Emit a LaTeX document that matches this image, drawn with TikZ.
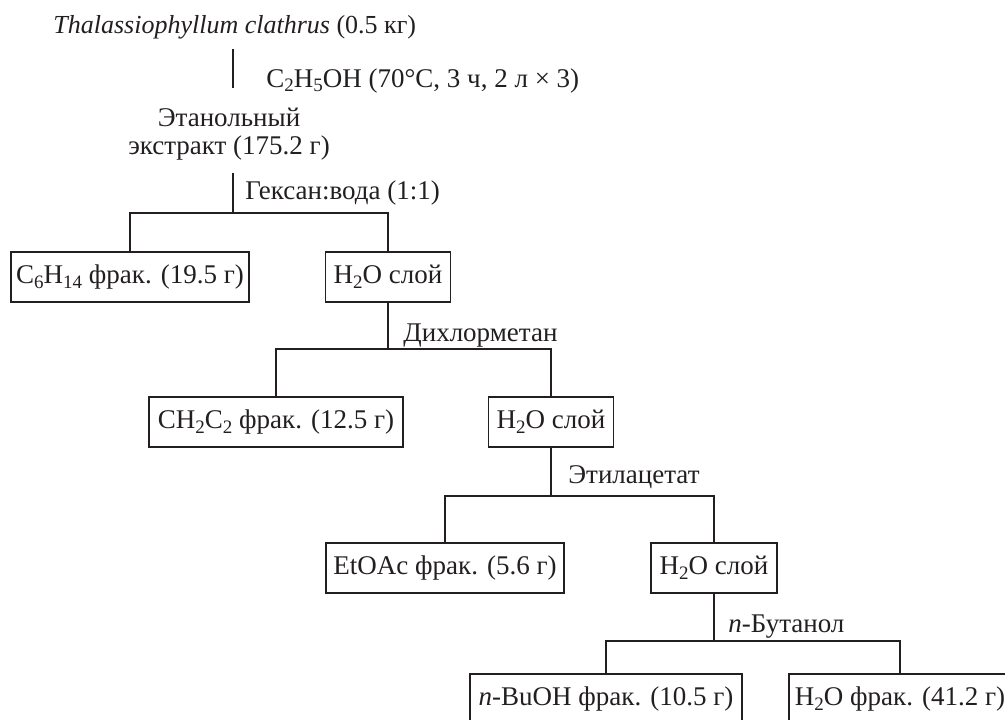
\documentclass[tikz,border=0pt]{standalone}
\usepackage{fontspec}
\setmainfont{Liberation Serif}
\definecolor{ink}{HTML}{231F20}
\newcommand{\sbs}[1]{\raisebox{-0.4ex}{\fontsize{9.5}{10}\selectfont#1}}

\begin{document}
\begin{tikzpicture}[x=0.5pt,y=-0.5pt,ink,
	every node/.style={font=\fontsize{13.5}{14}\selectfont,text=ink},
	frac/.style={draw,line width=0.65pt,inner sep=0pt,minimum height=25pt},
	lbl/.style={anchor=base west,inner sep=0pt},
	link/.style={line width=0.65pt}]
	\clip (0,0) rectangle (1005,719);
	% source and extraction
	\node[lbl,font=\fontsize{13}{14}\selectfont] (plant) at (53,33) {\textit{Thalassiophyllum clathrus} (0.5 кг)};
	\node[lbl] (etoh) at (266,87) {C\sbs{2}H\sbs{5}OH (70°C, 3 ч, 2 л × 3)};
	\node[align=center,inner sep=0pt] (extr) at (229,134) {Этанольный\\экстракт (175.2 г)};
	\coordinate (p0) at (233,49);
	\coordinate (p1) at (233,88);
	\draw[link] (p0) -- (p1);
	% fractions
	\node[frac,minimum width=119pt] (hex) at (130,277) {C\sbs{6}H\sbs{14} фрак. (19.5 г)};
	\node[frac,minimum width=62.5pt] (wat1) at (388,277) {H\sbs{2}O слой};
	\node[frac,minimum width=127pt] (dcm) at (276,422) {CH\sbs{2}C\sbs{2} фрак. (12.5 г)};
	\node[frac,minimum width=62.5pt] (wat2) at (551,422) {H\sbs{2}O слой};
	\node[frac,minimum width=119pt] (etoac) at (445,568) {EtOAc фрак. (5.6 г)};
	\node[frac,minimum width=63pt] (wat3) at (714,568) {H\sbs{2}O слой};
	\node[frac,minimum width=136pt] (buoh) at (606,699) {\textit{n}-BuOH фрак. (10.5 г)};
	\node[frac,minimum width=111pt] (watf) at (900,699) {H\sbs{2}O фрак. (41.2 г)};
	% solvents
	\node[lbl] (hexl) at (245,199) {Гексан:вода (1:1)};
	\node[lbl] (dcml) at (403,341) {Дихлорметан};
	\node[lbl] (eal) at (568,483) {Этилацетат};
	\node[lbl] (bul) at (728,632) {\textit{n}-Бутанол};
	% splits
	\coordinate (s1) at (233,173);
	\coordinate (j1) at (233,213);
	\draw[link] (s1) -- (j1);
	\draw[link] (hex.north) |- (j1) -| (wat1.north);
	\foreach \src/\lft/\rgt/\yy in {wat1/dcm/wat2/349,wat2/etoac/wat3/496,wat3/buoh/watf/641}
		\draw[link] (\src.south) -- (\src.south |- 0,\yy)
			(\lft.north) |- (\src.south |- 0,\yy) -| (\rgt.north);
\end{tikzpicture}
\end{document}
